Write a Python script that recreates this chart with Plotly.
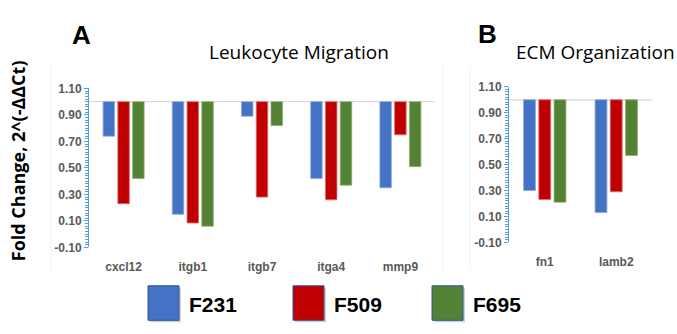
import plotly.graph_objects as go

# qPCR fold change, 2^(-ddCt), relative to control (= 1.0)
genes_leuko = ["cxcl12", "itgb1", "itgb7", "itga4", "mmp9"]
genes_ecm = ["fn1", "lamb2"]

f231_leuko = [0.74, 0.15, 0.89, 0.42, 0.35]
f509_leuko = [0.23, 0.085, 0.28, 0.26, 0.75]
f695_leuko = [0.42, 0.06, 0.82, 0.37, 0.51]

f231_ecm = [0.30, 0.13]
f509_ecm = [0.23, 0.29]
f695_ecm = [0.21, 0.57]

series_names = ["F231", "F509", "F695"]
series_colors = ["#4472C4", "#C00000", "#548235"]
edge_colors = ["#8FAADC", "#E07070", "#8DB26E"]

y_ticks = [-0.10, 0.10, 0.30, 0.50, 0.70, 0.90, 1.10]
baseline = 1.0

W, H = 677, 334
fig = go.Figure()

panels = [
    ("x", "y", genes_leuko, [f231_leuko, f509_leuko, f695_leuko]),
    ("x2", "y2", genes_ecm, [f231_ecm, f509_ecm, f695_ecm]),
]
for xa, ya, genes, series in panels:
    for name, vals, col, edge in zip(series_names, series, series_colors, edge_colors):
        fig.add_trace(go.Bar(
            x=genes,
            y=[v - baseline for v in vals],
            base=[baseline] * len(vals),
            name=name,
            marker=dict(color=col, line=dict(color=edge, width=0.8)),
            xaxis=xa, yaxis=ya, showlegend=False,
        ))


def px_x(p):
    return p / W


def px_y(p):
    return 1 - p / H


axis_blue = "#5B9BD5"
tick_font = dict(family="Liberation Sans, Arial", size=12, color="#595959", weight="bold")

yaxis_common = dict(
    range=[-0.1, 1.1],
    tickvals=y_ticks,
    ticktext=[f"{t:.2f}" for t in y_ticks],
    showgrid=False, zeroline=False,
    showline=True, linecolor=axis_blue, linewidth=1,
    ticks="outside", ticklen=4, tickcolor=axis_blue, tickwidth=1,
    minor=dict(dtick=0.02, tick0=-0.1, ticks="outside", ticklen=3,
               tickcolor=axis_blue, tickwidth=1, showgrid=False),
    tickfont=tick_font,
    fixedrange=True,
)
xaxis_common = dict(
    showgrid=False, zeroline=False, showline=False,
    ticks="outside", ticklen=8, tickcolor="rgba(0,0,0,0)",
    tickfont=tick_font,
    fixedrange=True,
)

fig.update_layout(
    width=W, height=H,
    margin=dict(l=0, r=0, t=0, b=0),
    paper_bgcolor="white", plot_bgcolor="white",
    barmode="group", bargap=0.36, bargroupgap=0.22,
    xaxis=dict(domain=[px_x(89), px_x(435)], anchor="y", **xaxis_common),
    yaxis=dict(domain=[px_y(251), px_y(85)], anchor="x", **yaxis_common),
    xaxis2=dict(domain=[px_x(509), px_x(652)], anchor="y2", **xaxis_common),
    yaxis2=dict(domain=[px_y(245.7), px_y(83.3)], anchor="x2", **yaxis_common),
)

shapes = []
# reference line at fold change = 1
for xref, yref in [("x domain", "y"), ("x2 domain", "y2")]:
    shapes.append(dict(type="line", xref=xref, yref=yref, x0=0, x1=1,
                       y0=baseline, y1=baseline,
                       line=dict(color="#D9D9D9", width=1.2), layer="below"))

# faint chart-area edges
for x0 in (51, 470, 443):
    shapes.append(dict(type="line", xref="paper", yref="paper",
                       x0=px_x(x0), x1=px_x(x0), y0=px_y(274), y1=px_y(62),
                       line=dict(color="#F2F2F2", width=1), layer="below"))

# legend swatches with drop shadow
legend_x = [148, 293, 432]
sw_w, sw_h, sw_top = 31, 36, 291
legend_borders = ["#2F5597", "#2F5597", "#2F5597"]
annotations = []
for lx, name, col, bcol in zip(legend_x, series_names, series_colors, legend_borders):
    shapes.append(dict(type="rect", xref="paper", yref="paper",
                       x0=px_x(lx + 2), x1=px_x(lx + sw_w + 2),
                       y0=px_y(sw_top + sw_h + 2), y1=px_y(sw_top + 2),
                       fillcolor="rgba(0,0,0,0.18)", line=dict(width=0)))
    shapes.append(dict(type="rect", xref="paper", yref="paper",
                       x0=px_x(lx), x1=px_x(lx + sw_w),
                       y0=px_y(sw_top + sw_h), y1=px_y(sw_top),
                       fillcolor=col, line=dict(color=bcol, width=1)))
    annotations.append(dict(x=px_x(lx + sw_w + 8), y=px_y(310), xref="paper", yref="paper",
                            text=f"<b>{name}</b>", showarrow=False, xanchor="left", yanchor="middle",
                            font=dict(family="Liberation Sans, Arial", size=21, color="black")))

fig.update_layout(shapes=shapes)

# panel letters, titles and the shared y-axis title
text_items = [
    (81, 29, "<b>A</b>", 0, dict(family="Liberation Sans, Arial", size=26, color="black")),
    (487, 28, "<b>B</b>", 0, dict(family="Liberation Sans, Arial", size=26, color="black")),
    (299, 47, "Leukocyte Migration", 0, dict(family="Open Sans", size=19, color="black")),
    (595, 47, "ECM Organization", 0, dict(family="Open Sans", size=19, color="black")),
    (18, 161, "<b>Fold Change, 2^(-ΔΔCt)</b>", -90, dict(family="Open Sans", size=18, color="black")),
]
for x, y, text, angle, font in text_items:
    annotations.append(dict(x=px_x(x), y=px_y(y), xref="paper", yref="paper",
                            text=text, textangle=angle, showarrow=False,
                            xanchor="center", yanchor="middle", font=font))
fig.update_layout(annotations=annotations)

fig.write_html("out.html")
